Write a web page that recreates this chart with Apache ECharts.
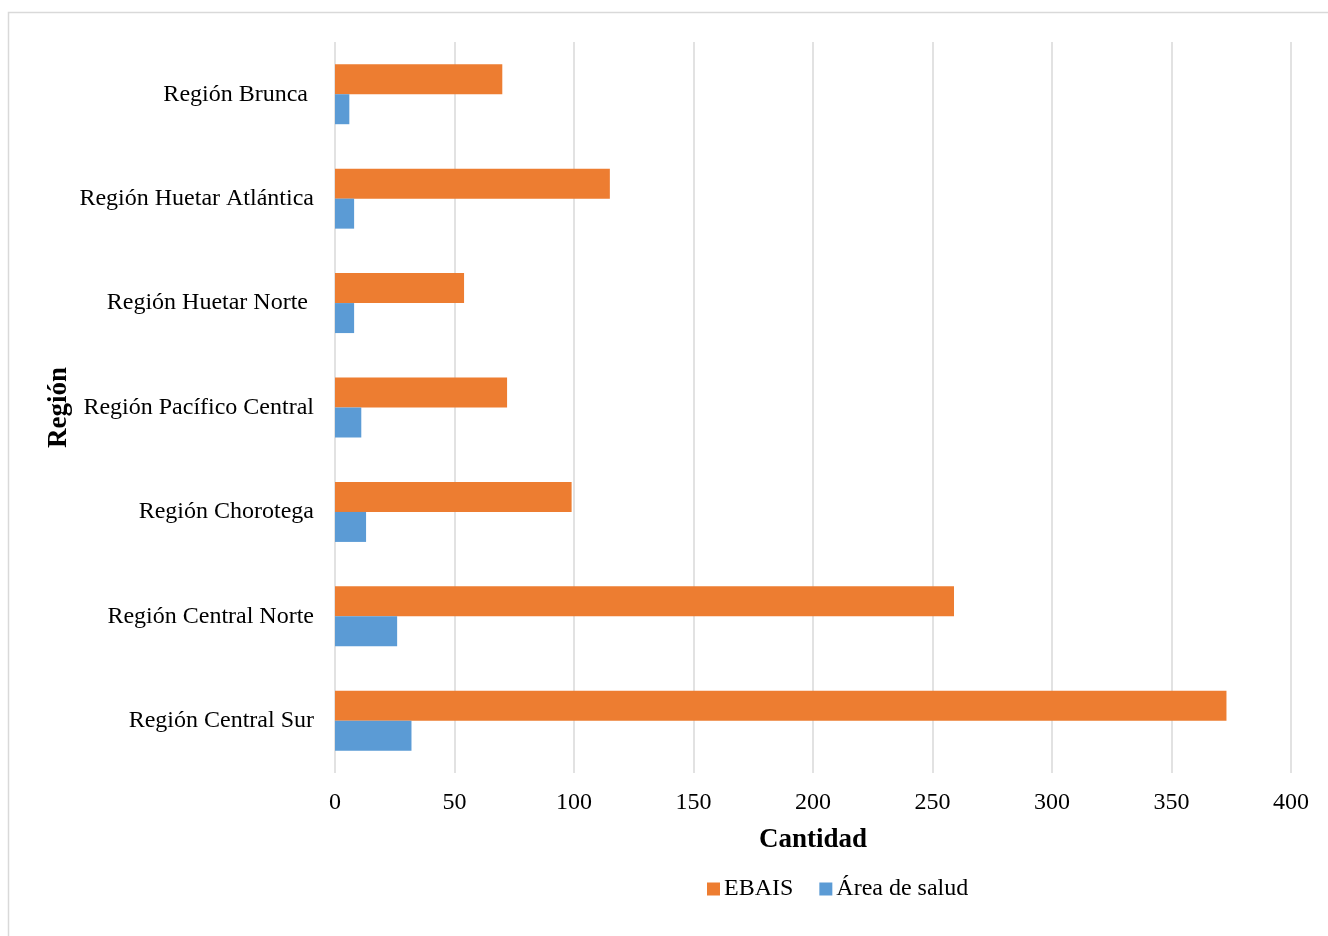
<!DOCTYPE html>
<html>
<head>
<meta charset="utf-8">
<script src="https://cdn.jsdelivr.net/npm/echarts@6/dist/echarts.min.js"></script>
<style>
  html, body { margin: 0; padding: 0; background: #ffffff; }
  #chart { width: 1328px; height: 936px; }
</style>
</head>
<body>
<div id="chart"></div>
<script>
// Regions, listed bottom to top as the category axis draws them
const regions = [
  'Región Central Sur',
  'Región Central Norte',
  'Región Chorotega',
  'Región Pacífico Central',
  'Región Huetar Norte ',
  'Región Huetar Atlántica',
  'Región Brunca '
];
const ebais = [373, 259, 99, 72, 54, 115, 70];
const areaSalud = [32, 26, 13, 11, 8, 8, 6];
const xTicks = [0, 50, 100, 150, 200, 250, 300, 350, 400];

const serif = '"Liberation Serif", "Times New Roman", serif';
const chart = echarts.init(document.getElementById('chart'));

chart.setOption({
  animation: false,
  backgroundColor: '#ffffff',
  graphic: [{
    type: 'rect',
    shape: { x: 8.5, y: 12.5, width: 1340, height: 940 },
    style: { fill: 'none', stroke: '#d9d9d9', lineWidth: 1.5 },
    silent: true
  }],
  grid: { left: 335, right: 37, top: 42, bottom: 163, containLabel: false },
  legend: {
    bottom: 30,
    left: 702,
    itemWidth: 13,
    itemHeight: 13,
    itemGap: 26,
    icon: 'rect',
    textStyle: { fontFamily: serif, fontSize: 24, color: '#000000', padding: [0, 0, 0, -1] },
    data: ['EBAIS', 'Área de salud']
  },
  xAxis: {
    type: 'value',
    min: xTicks[0],
    max: xTicks[xTicks.length - 1],
    interval: xTicks[1] - xTicks[0],
    name: 'Cantidad',
    nameLocation: 'middle',
    nameGap: 54,
    nameTextStyle: { fontFamily: serif, fontSize: 27, fontWeight: 'bold', color: '#000000' },
    axisLine: { show: false },
    axisTick: { show: false },
    axisLabel: { fontFamily: serif, fontSize: 24, color: '#000000', margin: 18 },
    splitLine: { show: true, lineStyle: { color: '#d9d9d9', width: 1.5 } }
  },
  yAxis: {
    type: 'category',
    data: regions,
    name: 'Región',
    nameLocation: 'middle',
    nameRotate: 90,
    nameGap: 262,
    nameMoveOverlap: false,
    nameTextStyle: { fontFamily: serif, fontSize: 27, fontWeight: 'bold', color: '#000000' },
    axisLine: { show: false },
    axisTick: { show: false },
    axisLabel: { fontFamily: serif, fontSize: 24, color: '#000000', margin: 21 },
    splitLine: { show: false }
  },
  series: [
    {
      name: 'EBAIS',
      type: 'bar',
      data: ebais,
      barWidth: 30,
      barGap: '0%',
      itemStyle: { color: '#ED7D31' }
    },
    {
      name: 'Área de salud',
      type: 'bar',
      data: areaSalud,
      barWidth: 30,
      barGap: '0%',
      itemStyle: { color: '#5B9BD5' }
    }
  ]
});
</script>
</body>
</html>
